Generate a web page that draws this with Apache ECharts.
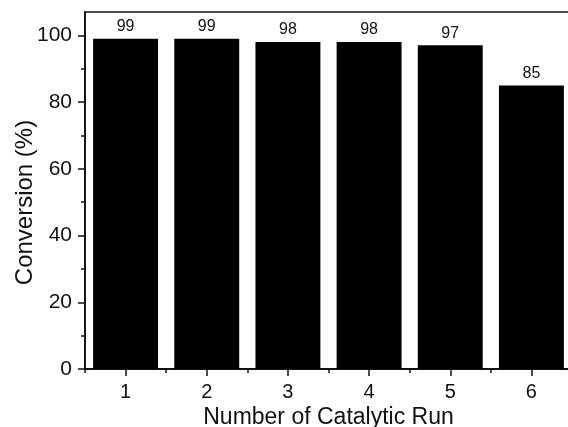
<!DOCTYPE html>
<html>
<head>
<meta charset="utf-8">
<script src="https://cdn.jsdelivr.net/npm/echarts@6/dist/echarts.min.js"></script>
<style>
  html, body { margin: 0; padding: 0; background: #fff; }
  #chart { width: 568px; height: 427px; }
</style>
</head>
<body>
<div id="chart"></div>
<script>
// Catalyst recycling: conversion per run
const runs = ['1', '2', '3', '4', '5', '6'];
const conversion = [99, 99, 98, 98, 97, 85];
const yMajorTicks = [0, 20, 40, 60, 80, 100];
const yMinorTicks = [10, 30, 50, 70, 90];

const FONT = '"Liberation Sans", Arial, Helvetica, sans-serif';
const INK = '#111';

const chart = echarts.init(document.getElementById('chart'), null, { renderer: 'canvas' });

chart.setOption({
  animation: false,
  backgroundColor: '#fff',
  grid: {
    left: 85, top: 12, width: 487, bottom: 58,
    outerBoundsMode: 'none',
    containLabel: false,
    show: true, borderColor: INK, borderWidth: 1.5, backgroundColor: 'transparent'
  },
  xAxis: [
    {
      type: 'category',
      data: runs,
      boundaryGap: true,
      name: 'Number of Catalytic Run',
      nameLocation: 'middle',
      nameGap: 37,
      nameMoveOverlap: false,
      nameTextStyle: { fontFamily: FONT, fontSize: 23, color: INK },
      axisLine: { show: true, lineStyle: { color: INK, width: 1.8 } },
      axisTick: { show: true, alignWithLabel: true, inside: false, length: 7, lineStyle: { color: INK, width: 1.5 } },
      axisLabel: { fontFamily: FONT, fontSize: 20, color: INK, margin: 13 },
      splitLine: { show: false }
    },
    {
      type: 'category',
      data: runs,
      boundaryGap: true,
      position: 'bottom',
      axisLine: { show: false },
      axisTick: { show: true, alignWithLabel: false, inside: false, length: 4, lineStyle: { color: INK, width: 1.5 } },
      axisLabel: { show: false },
      splitLine: { show: false }
    }
  ],
  yAxis: [
    {
      type: 'value',
      min: 0,
      max: 107,
      name: 'Conversion (%)',
      nameLocation: 'middle',
      nameGap: 48,
      nameRotate: 90,
      nameMoveOverlap: false,
      nameTextStyle: { fontFamily: FONT, fontSize: 24, color: INK, padding: [0, 24, 0, 0] },
      axisLine: { show: true, lineStyle: { color: INK, width: 1.8 } },
      axisTick: { show: true, inside: false, length: 7, customValues: yMajorTicks, lineStyle: { color: INK, width: 1.5 } },
      axisLabel: { fontFamily: FONT, fontSize: 21, color: INK, margin: 13, customValues: yMajorTicks },
      splitLine: { show: false }
    },
    {
      type: 'value',
      min: 0,
      max: 107,
      position: 'left',
      axisLine: { show: false },
      axisTick: { show: true, inside: false, length: 4, customValues: yMinorTicks, lineStyle: { color: INK, width: 1.5 } },
      axisLabel: { show: false, customValues: yMinorTicks },
      splitLine: { show: false }
    }
  ],
  series: [
    {
      type: 'bar',
      data: conversion,
      barWidth: '80%',
      itemStyle: { color: '#000' },
      label: {
        show: true,
        position: 'top',
        distance: 4,
        fontFamily: FONT,
        fontSize: 16,
        color: INK
      }
    }
  ]
});
</script>
</body>
</html>
